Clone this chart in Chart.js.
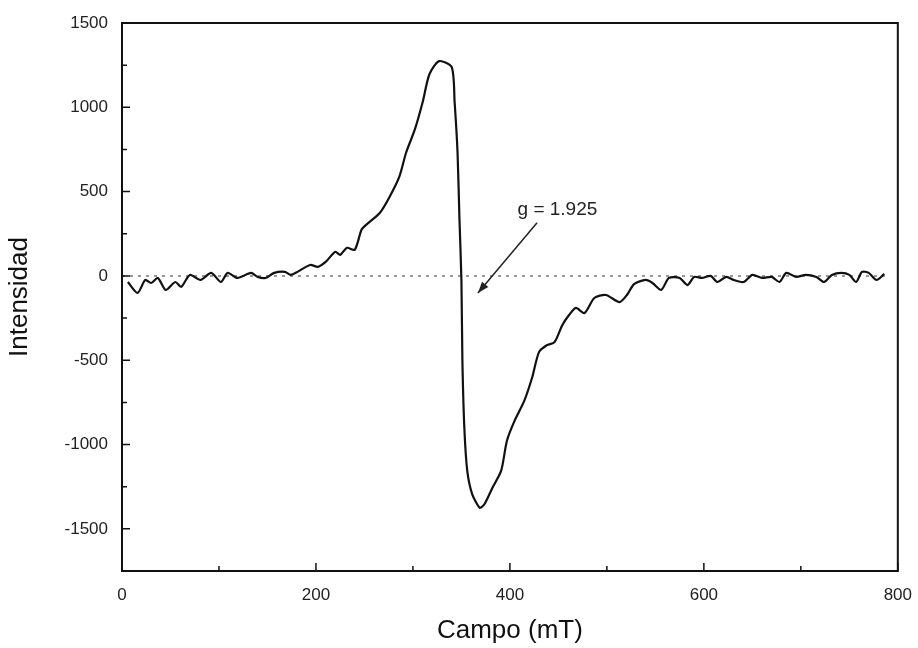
<!DOCTYPE html>
<html>
<head>
<meta charset="utf-8">
<script src="https://cdn.jsdelivr.net/npm/chart.js@4.4.1/dist/chart.umd.min.js"></script>
<style>
  html, body { margin: 0; padding: 0; background: #fff; }
  #wrap { width: 918px; height: 648px; }
</style>
</head>
<body>
<div id="wrap"><canvas id="chart" width="918" height="648"></canvas></div>
<script>
// Campo (mT) e intensidad
const campo = [6, 16, 24, 30, 37, 45, 55, 61, 70, 81, 92, 102, 109, 119, 133, 140, 148, 157, 168, 174,
  181, 194, 202, 210, 220, 225, 232, 240, 247, 252, 266, 276, 286, 293, 302, 310, 317, 327, 340, 343,
  346, 348, 350, 351, 353, 356, 361, 369, 374, 382, 391, 397, 405, 415, 423, 430, 438, 446, 454, 461,
  468, 477, 487, 499, 513, 521, 528, 540, 547, 556, 564, 575, 583, 590, 598, 607, 614, 623, 631, 641,
  650, 660, 670, 678, 685, 695, 705, 716, 724, 732, 742, 750, 757, 763, 770, 778, 786];
const intensidad = [-36, -101, -24, -42, -12, -83, -36, -65, 6, -24, 18, -36, 18, -12, 18, -6, -12, 18, 24, 6,
  24, 65, 54, 83, 143, 125, 167, 155, 274, 304, 375, 470, 589, 732, 869, 1030, 1196, 1274, 1238, 1030,
  732, 333, -24, -500, -899, -1155, -1292, -1375, -1351, -1256, -1155, -976, -857, -738, -601, -452, -411, -393, -292, -232,
  -190, -220, -131, -113, -155, -110, -48, -24, -42, -83, -12, -12, -54, -6, -12, 0, -36, -6, -24, -36,
  6, -12, -6, -36, 18, -6, 6, -6, -36, 6, 18, 6, -36, 24, 18, -24, 12];

const xTicks = [0, 200, 400, 600, 800];
const xMinorTicks = [100, 300, 500, 700];
const yTicks = [-1500, -1000, -500, 0, 500, 1000, 1500];
const yMinorTicks = [-1250, -750, -250, 250, 750, 1250];

const linea0 = [0, 790];
const etiqueta = { texto: 'g = 1.925', x: 449, y: 393 };
const flecha = { desde: [428, 315], hasta: [367, -101] };

const puntos = campo.map((c, i) => ({ x: c, y: intensidad[i] }));
const cero = linea0.map(c => ({ x: c, y: 0 }));

// marco, marcas hacia dentro, anotación con flecha
const marcoPlugin = {
  id: 'marco',
  afterDatasetsDraw(chart) {
    const ctx = chart.ctx;
    const a = chart.chartArea;
    const xs = chart.scales.x, ys = chart.scales.y;
    ctx.save();
    ctx.strokeStyle = '#111';
    ctx.lineWidth = 2;
    ctx.strokeRect(a.left, a.top, a.right - a.left, a.bottom - a.top);

    ctx.lineWidth = 1.5;
    ctx.beginPath();
    xTicks.forEach(v => { const p = xs.getPixelForValue(v); ctx.moveTo(p, a.bottom); ctx.lineTo(p, a.bottom - 8); });
    xMinorTicks.forEach(v => { const p = xs.getPixelForValue(v); ctx.moveTo(p, a.bottom); ctx.lineTo(p, a.bottom - 5); });
    yTicks.forEach(v => { const p = ys.getPixelForValue(v); ctx.moveTo(a.left, p); ctx.lineTo(a.left + 8, p); });
    yMinorTicks.forEach(v => { const p = ys.getPixelForValue(v); ctx.moveTo(a.left, p); ctx.lineTo(a.left + 5, p); });
    ctx.stroke();

    // flecha
    const x1 = xs.getPixelForValue(flecha.desde[0]), y1 = ys.getPixelForValue(flecha.desde[1]);
    const x2 = xs.getPixelForValue(flecha.hasta[0]), y2 = ys.getPixelForValue(flecha.hasta[1]);
    ctx.strokeStyle = '#222';
    ctx.lineWidth = 1.5;
    ctx.beginPath();
    ctx.moveTo(x1, y1);
    ctx.lineTo(x2, y2);
    ctx.stroke();
    const ang = Math.atan2(y2 - y1, x2 - x1);
    ctx.fillStyle = '#222';
    ctx.beginPath();
    ctx.moveTo(x2, y2);
    ctx.lineTo(x2 - 12 * Math.cos(ang - 0.35), y2 - 12 * Math.sin(ang - 0.35));
    ctx.lineTo(x2 - 12 * Math.cos(ang + 0.35), y2 - 12 * Math.sin(ang + 0.35));
    ctx.closePath();
    ctx.fill();

    ctx.font = '19px "Liberation Sans", Arial, sans-serif';
    ctx.textAlign = 'center';
    ctx.textBaseline = 'middle';
    ctx.fillText(etiqueta.texto, xs.getPixelForValue(etiqueta.x), ys.getPixelForValue(etiqueta.y));
    ctx.restore();
  }
};

const fuente = { family: '"Liberation Sans", Arial, sans-serif' };

new Chart(document.getElementById('chart').getContext('2d'), {
  type: 'line',
  data: {
    datasets: [
      {
        data: puntos,
        borderColor: '#111',
        borderWidth: 2.2,
        pointRadius: 0,
        tension: 0.25,
        fill: false,
        order: 1
      },
      {
        data: cero,
        borderColor: '#777',
        borderWidth: 1.5,
        borderDash: [3, 5],
        pointRadius: 0,
        fill: false,
        order: 2
      }
    ]
  },
  options: {
    responsive: false,
    animation: false,
    events: [],
    layout: { padding: { left: 0, right: 5, top: 23, bottom: 0 } },
    plugins: { legend: { display: false }, tooltip: { enabled: false } },
    scales: {
      x: {
        type: 'linear',
        min: 0,
        max: 800,
        afterBuildTicks: s => { s.ticks = xTicks.map(v => ({ value: v })); },
        afterFit: s => { s.height = 77; },
        grid: { display: false },
        border: { display: false },
        ticks: { padding: 6, color: '#222', font: { ...fuente, size: 17 }, callback: v => String(v) },
        title: { display: true, text: 'Campo (mT)', color: '#111', padding: { top: 6, bottom: 2 }, font: { ...fuente, size: 26 } }
      },
      y: {
        type: 'linear',
        min: -1750,
        max: 1500,
        afterBuildTicks: s => { s.ticks = yTicks.map(v => ({ value: v })); },
        afterFit: s => { s.width = 122; },
        grid: { display: false },
        border: { display: false },
        ticks: { padding: 6, color: '#222', font: { ...fuente, size: 17 }, callback: v => String(v) },
        title: { display: true, text: 'Intensidad', color: '#111', padding: { top: 4, bottom: 0 }, font: { ...fuente, size: 26 } }
      }
    }
  },
  plugins: [marcoPlugin]
});
</script>
</body>
</html>
